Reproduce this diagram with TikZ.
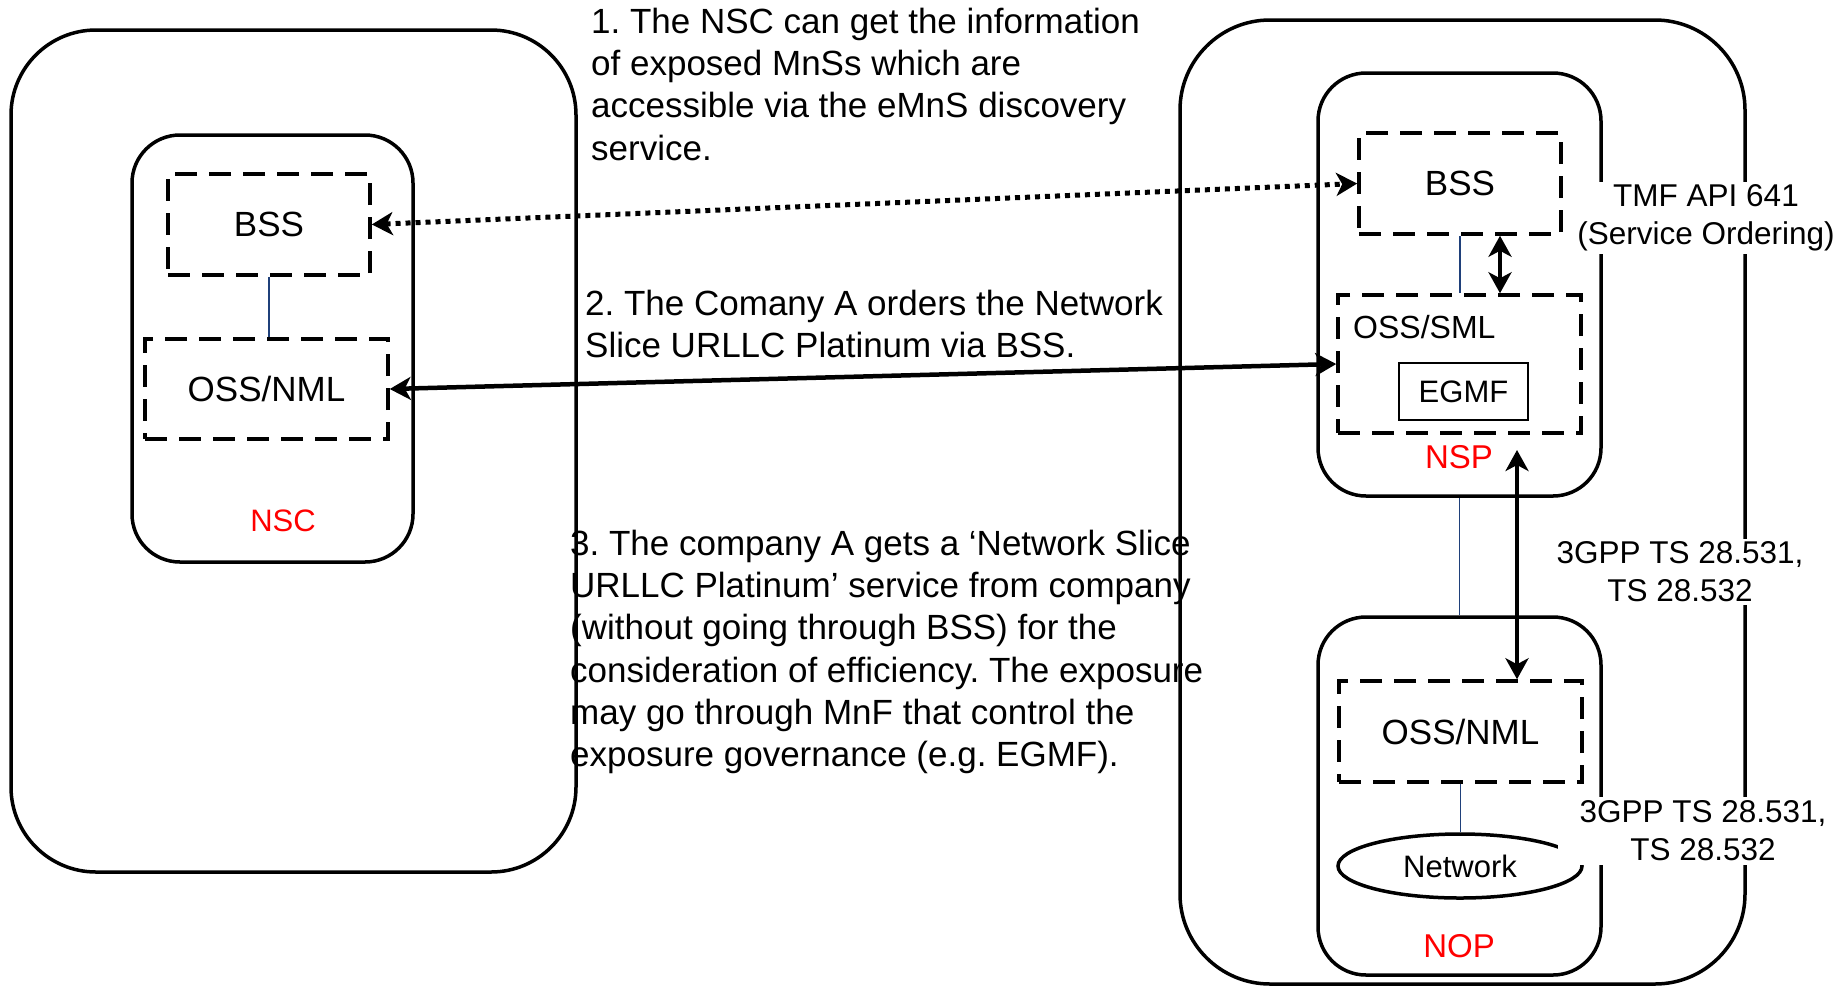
\documentclass[tikz,border=0pt]{standalone}
\usepackage{fontspec}
\setmainfont{Liberation Sans}
\usetikzlibrary{arrows.meta,shapes.geometric}
\definecolor{linkblue}{RGB}{31,64,122}
\definecolor{lblred}{RGB}{255,0,0}
\frenchspacing
\begin{document}
\begin{tikzpicture}[x=1pt,y=-1pt,
  outerbox/.style={draw, line width=3.5pt, rounded corners=85pt, inner sep=0pt},
  unitbox/.style={draw, line width=3.5pt, rounded corners=48pt, inner sep=0pt},
  dbox/.style={draw, line width=3.5pt, dash pattern=on 22pt off 12pt, inner sep=0pt, font=\fontsize{35}{41}\selectfont},
  sbox/.style={draw, line width=2.5pt, inner sep=0pt, font=\fontsize{31}{37}\selectfont},
  redlbl/.style={text=lblred, inner sep=0pt, font=\fontsize{33}{39}\selectfont},
  txt/.style={align=left, anchor=north west, inner sep=0pt, font=\fontsize{35}{42.2}\selectfont},
  spec/.style={align=center, fill=white, inner sep=3pt, font=\fontsize{31.5}{38}\selectfont},
  link/.style={draw=linkblue, line width=1.5pt},
  flow/.style={line width=4.5pt, {Stealth[length=21pt, width=23pt, inset=6pt]}-{Stealth[length=21pt, width=23pt, inset=6pt]}},
  dotflow/.style={line width=5pt, dash pattern=on 5pt off 5pt, {Stealth[length=21pt, width=23pt, inset=6pt]}-{Stealth[length=21pt, width=23pt, inset=6pt]}}
]
\useasboundingbox (0,0) rectangle (1842,986);

% left side: company A
\node[outerbox, minimum width=565pt, minimum height=842pt] (compA) at (293.5,451) {};
\node[unitbox, minimum width=281pt, minimum height=427pt] (nsc) at (272.5,348.5) {};
\node[dbox, minimum width=202pt, minimum height=101pt] (lbss) at (269,224.5) {BSS};
\node[dbox, minimum width=243pt, minimum height=100pt] (loss) at (266.5,389) {OSS/NML};
\node[redlbl, font=\fontsize{31}{37}\selectfont] (nsclbl) at (283,521) {NSC};

% right side: company B
\node[outerbox, rounded corners=90pt, minimum width=565pt, minimum height=964pt] (compB) at (1462.5,502) {};
\node[unitbox, minimum width=283pt, minimum height=423pt] (nsp) at (1459.5,284.5) {};
\node[dbox, minimum width=202pt, minimum height=101pt] (rbss) at (1460,183.5) {BSS};
\node[dbox, minimum width=243pt, minimum height=138pt] (osssml) at (1459.5,364) {};
\node[anchor=west, inner sep=0pt, font=\fontsize{32}{38}\selectfont] (sml) at (1353,327) {OSS/SML};
\node[sbox, minimum width=129pt, minimum height=57pt] (egmf) at (1463.5,391.5) {EGMF};
\node[redlbl] (nsplbl) at (1459,457) {NSP};

\node[unitbox, minimum width=283pt, minimum height=358pt] (nop) at (1459.5,796) {};
\node[dbox, minimum width=243pt, minimum height=101pt] (ross) at (1460.5,731.5) {OSS/NML};
\node[ellipse, draw, line width=3.5pt, minimum width=244pt, minimum height=64pt, inner sep=0pt, font=\fontsize{31}{37}\selectfont] (net) at (1460,866) {Network};
\node[redlbl] (noplbl) at (1459,946) {NOP};

% thin internal links
\draw[link] (lbss.south) -- (lbss.south |- loss.north);
\draw[link] (rbss.south) -- (rbss.south |- osssml.north);
\draw[link] (nsp.south) -- (nsp.south |- nop.north);
\draw[link] (ross.south) -- (ross.south |- net.north);

% interface arrows
\draw[dotflow] (lbss.east) -- (rbss.west);
\draw[flow] (loss.east) -- (osssml.west);
\coordinate (smlA) at ([xshift=40pt]rbss.south);
\draw[flow] (smlA) -- (smlA |- osssml.north);
\coordinate (bigtop) at (1517,450);
\draw[flow] (bigtop) -- (bigtop |- ross.north);

% specification labels
\node[spec] (tmf) at (1706,218) {TMF API 641\\(Service Ordering)};
\node[spec] (gpp1) at (1680,572) {3GPP TS 28.531,\\TS 28.532};
\node[spec, inner xsep=22pt, inner ysep=4pt] (gpp2) at (1703,831) {3GPP TS 28.531,\\TS 28.532};

% step texts
\node[txt] (step1) at (591,8) {1. The NSC can get the information\\of exposed MnSs which are\\accessible via the eMnS discovery\\service.};
\node[txt] (step2) at (585,290) {2. The Comany A orders the Network\\Slice URLLC Platinum via BSS.};
\node[txt] (step3) at (570,530) {3. The company A gets a ‘Network Slice\\URLLC Platinum’ service from company\\(without going through BSS) for the\\consideration of efficiency. The exposure\\may go through MnF that control the\\exposure governance (e.g. EGMF).};
\end{tikzpicture}
\end{document}
